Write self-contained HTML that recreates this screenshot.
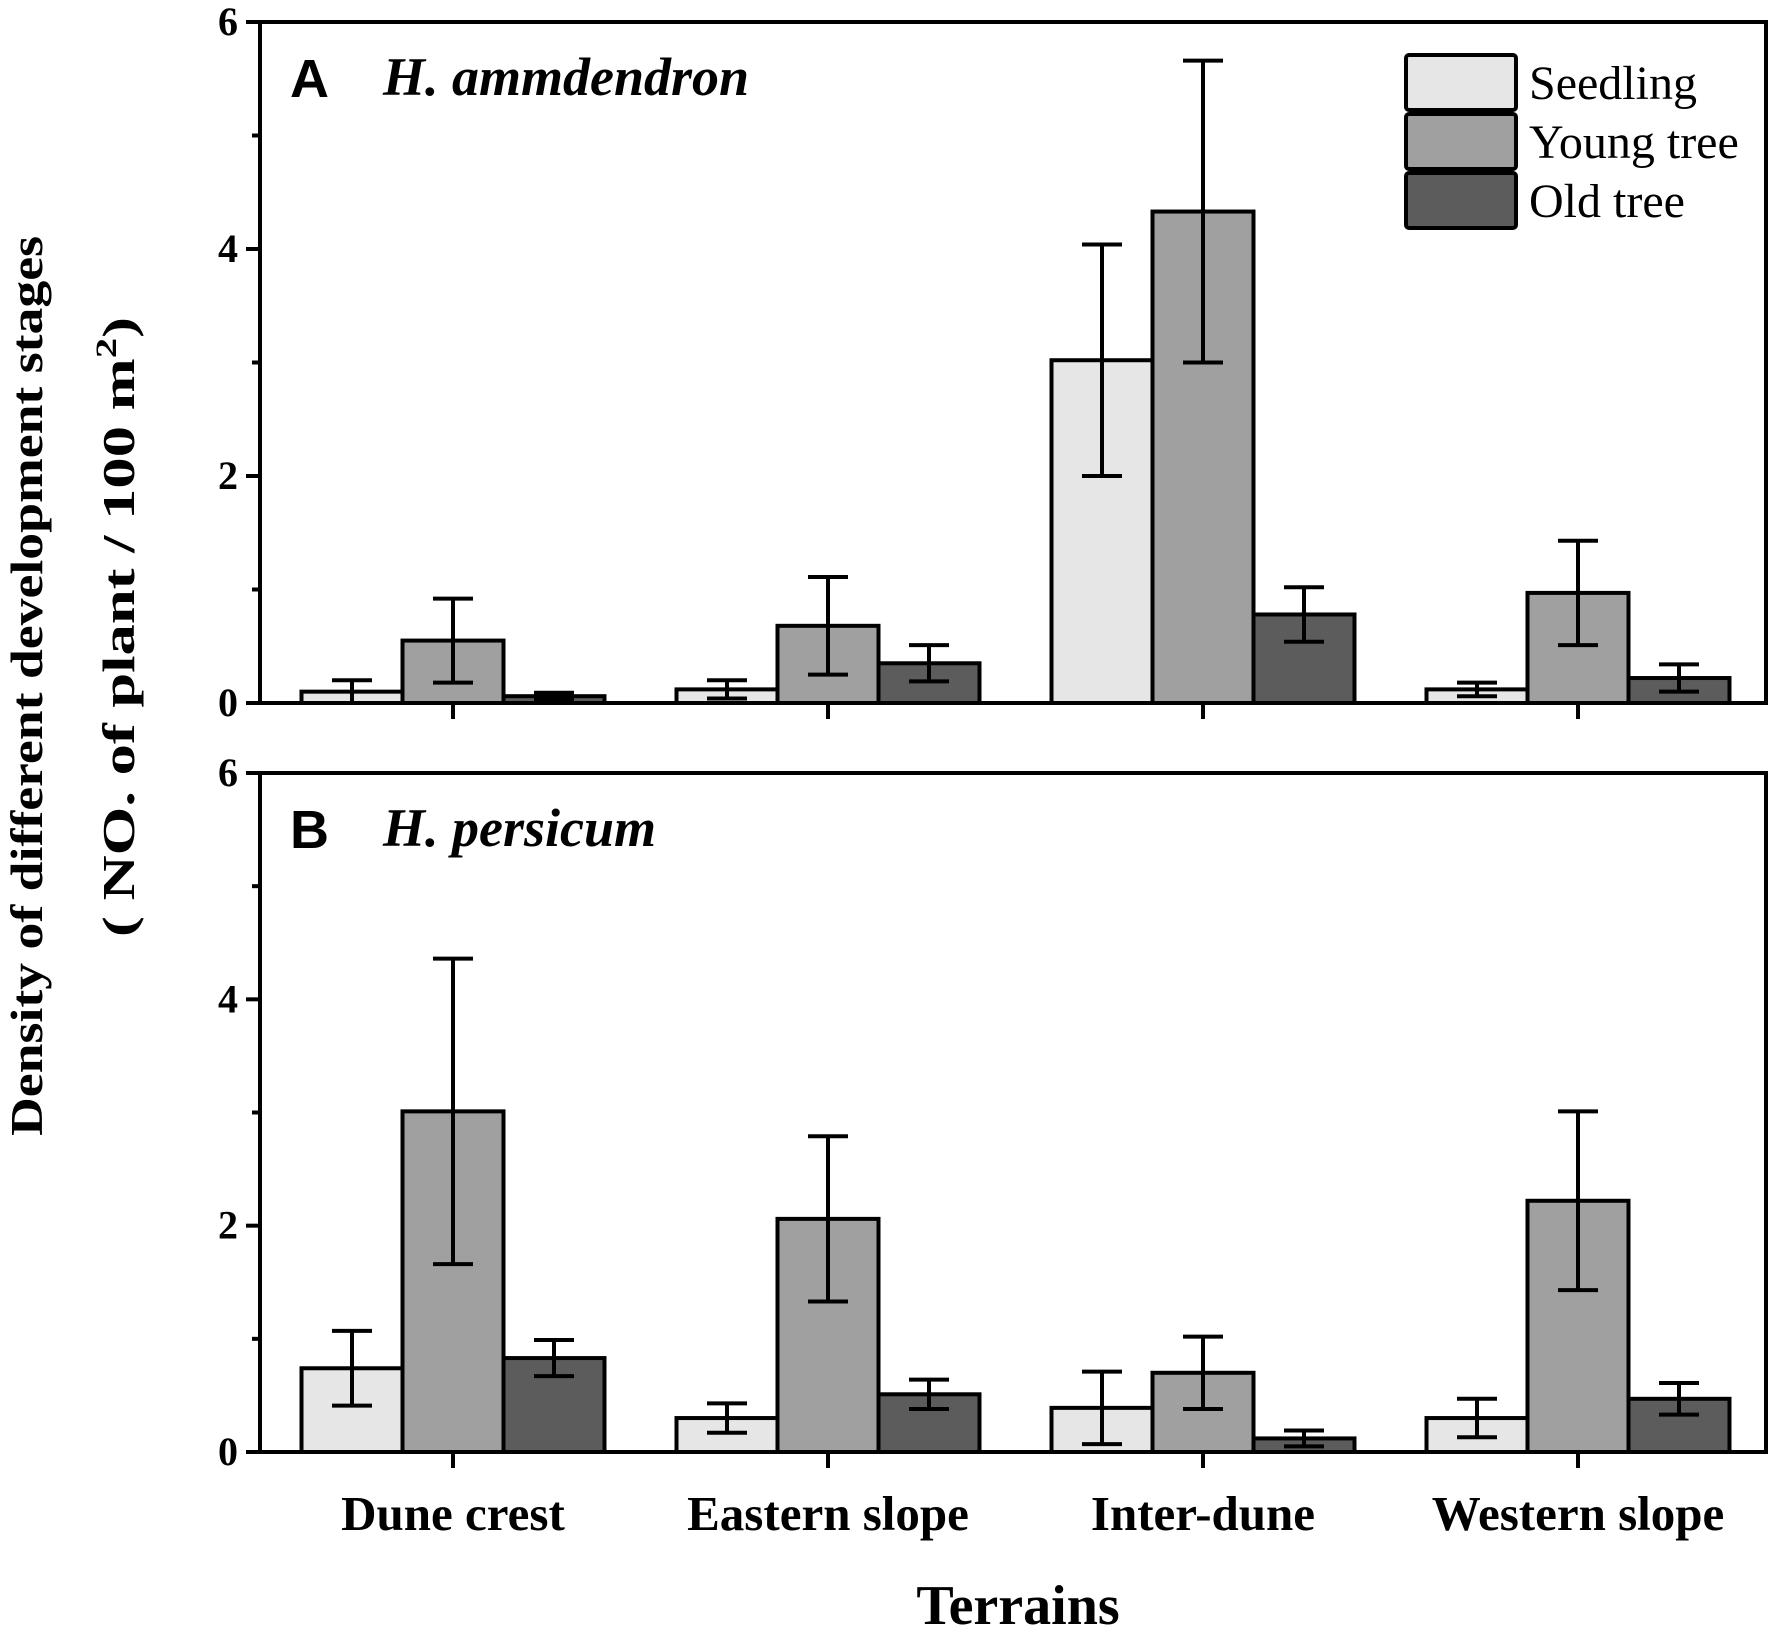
<!DOCTYPE html>
<html><head><meta charset="utf-8"><style>
html,body{margin:0;padding:0;background:#fff;}
svg{display:block;}
text{font-family:"Liberation Serif",serif;fill:#000;}
</style></head><body>
<svg id="chart" width="1772" height="1629" viewBox="0 0 1772 1629" xmlns="http://www.w3.org/2000/svg">
<g id="root"></g>
</svg>
<script>
const categories = ["Dune crest","Eastern slope","Inter-dune","Western slope"];
const seriesNames = ["Seedling","Young tree","Old tree"];
const seriesColors = ["#e6e6e6","#a0a0a0","#5c5c5c"];
const aSeedling = [0.10,0.12,3.02,0.12];
const aYoung = [0.55,0.68,4.33,0.97];
const aOld = [0.06,0.35,0.78,0.22];
const aSeedlingErr = [0.10,0.08,1.02,0.06];
const aYoungErr = [0.37,0.43,1.33,0.46];
const aOldErr = [0.03,0.16,0.24,0.12];
const bSeedling = [0.74,0.30,0.39,0.30];
const bYoung = [3.01,2.06,0.70,2.22];
const bOld = [0.83,0.51,0.12,0.47];
const bSeedlingErr = [0.33,0.13,0.32,0.17];
const bYoungErr = [1.35,0.73,0.32,0.79];
const bOldErr = [0.16,0.13,0.07,0.14];
const yTicks = [0,2,4,6];
const yMinor = [1,3,5];

const NS="http://www.w3.org/2000/svg";
const root=document.getElementById('root');
function mk(tag,attrs,parent){const e=document.createElementNS(NS,tag);for(const k in attrs)e.setAttribute(k,attrs[k]);(parent||root).appendChild(e);return e;}

const X0=260, X1=1766;
const catCenters=[453,828,1203,1578];
const barW=101;
function xCat(i){return catCenters[i];}

function panel(top,bottom,series,errs,letter,species,pname){
  const g=mk('g',{});
  
  
  const y=v=>bottom-(v/6)*(bottom-top);
  for(let s=0;s<3;s++){
    for(let i=0;i<categories.length;i++){
      const x=xCat(i)+(s-1.5)*barW;
      const r=mk('rect',{x:x,y:y(series[s][i]),width:barW,height:bottom-y(series[s][i]),fill:seriesColors[s],stroke:'#000','stroke-width':4},g);
      
      
    }
  }
  for(let s=0;s<3;s++){
    for(let i=0;i<categories.length;i++){
      const cx=xCat(i)+(s-1)*barW;
      const hi=y(series[s][i]+errs[s][i]), lo=y(Math.max(0,series[s][i]-errs[s][i]));
      const eg=mk('g',{stroke:'#000','stroke-width':4},g);
      
      
      mk('line',{x1:cx,x2:cx,y1:hi,y2:lo},eg);
      mk('line',{x1:cx-20,x2:cx+20,y1:hi,y2:hi},eg);
      mk('line',{x1:cx-20,x2:cx+20,y1:lo,y2:lo},eg);
    }
  }
  const f=mk('rect',{x:X0,y:top,width:X1-X0,height:bottom-top,fill:'none',stroke:'#000','stroke-width':4},g);
  
  
  yTicks.forEach(t=>{
    mk('line',{x1:X0-14,x2:X0,y1:y(t),y2:y(t),stroke:'#000','stroke-width':4},g);
    const tx=mk('text',{x:X0-22,y:y(t)+13,'text-anchor':'end','font-size':40,'font-weight':'bold'},g);
    tx.textContent=t;
    
    
  });
  yMinor.forEach(t=>mk('line',{x1:X0-8,x2:X0,y1:y(t),y2:y(t),stroke:'#000','stroke-width':4},g));
  categories.forEach((c,i)=>mk('line',{x1:xCat(i),x2:xCat(i),y1:bottom,y2:bottom+16,stroke:'#000','stroke-width':4},g));
  const L=mk('text',{x:290,y:top+75,'font-size':54,'font-weight':'bold',style:'font-family:"Liberation Sans",sans-serif'},g);
  L.textContent=letter;
  
  
  const S=mk('text',{x:383,y:top+73,'font-size':54,'font-weight':'bold','font-style':'italic'},g);
  S.textContent=species;
  
  
}
panel(22,703,[aSeedling,aYoung,aOld],[aSeedlingErr,aYoungErr,aOldErr],'A','H. ammdendron','panel-a');
panel(773,1452,[bSeedling,bYoung,bOld],[bSeedlingErr,bYoungErr,bOldErr],'B','H. persicum','panel-b');

categories.forEach((c,i)=>{
  const t=mk('text',{x:xCat(i),y:1530,'text-anchor':'middle','font-size':49,'font-weight':'bold'});
  t.textContent=c;
  
  
});
const xt=mk('text',{x:1018,y:1624,'text-anchor':'middle','font-size':56,'font-weight':'bold'});
xt.textContent='Terrains';



const yt=mk('text',{transform:'translate(42,686) rotate(-90)','text-anchor':'middle','font-size':46,'font-weight':'bold',textLength:900,lengthAdjust:'spacingAndGlyphs'});
yt.textContent='Density of different development stages';


const yt2=mk('text',{transform:'translate(134,627) rotate(-90)','text-anchor':'middle','font-size':46,'font-weight':'bold',textLength:620,lengthAdjust:'spacingAndGlyphs'});
yt2.innerHTML='( NO. of plant / 100 m<tspan dy="-18" font-size="30">2</tspan><tspan dy="18">)</tspan>';



const lg=mk('g',{});


seriesNames.forEach((n,s)=>{
  const yy=55+s*59;
  const e=mk('g',{},lg);
  
  
  mk('rect',{x:1406,y:yy,width:110,height:55,fill:seriesColors[s],stroke:'#000','stroke-width':4,rx:3},e);
  const t=mk('text',{x:1529,y:yy+44,'font-size':48},e);
  t.textContent=n;
});
</script>
</body></html>
